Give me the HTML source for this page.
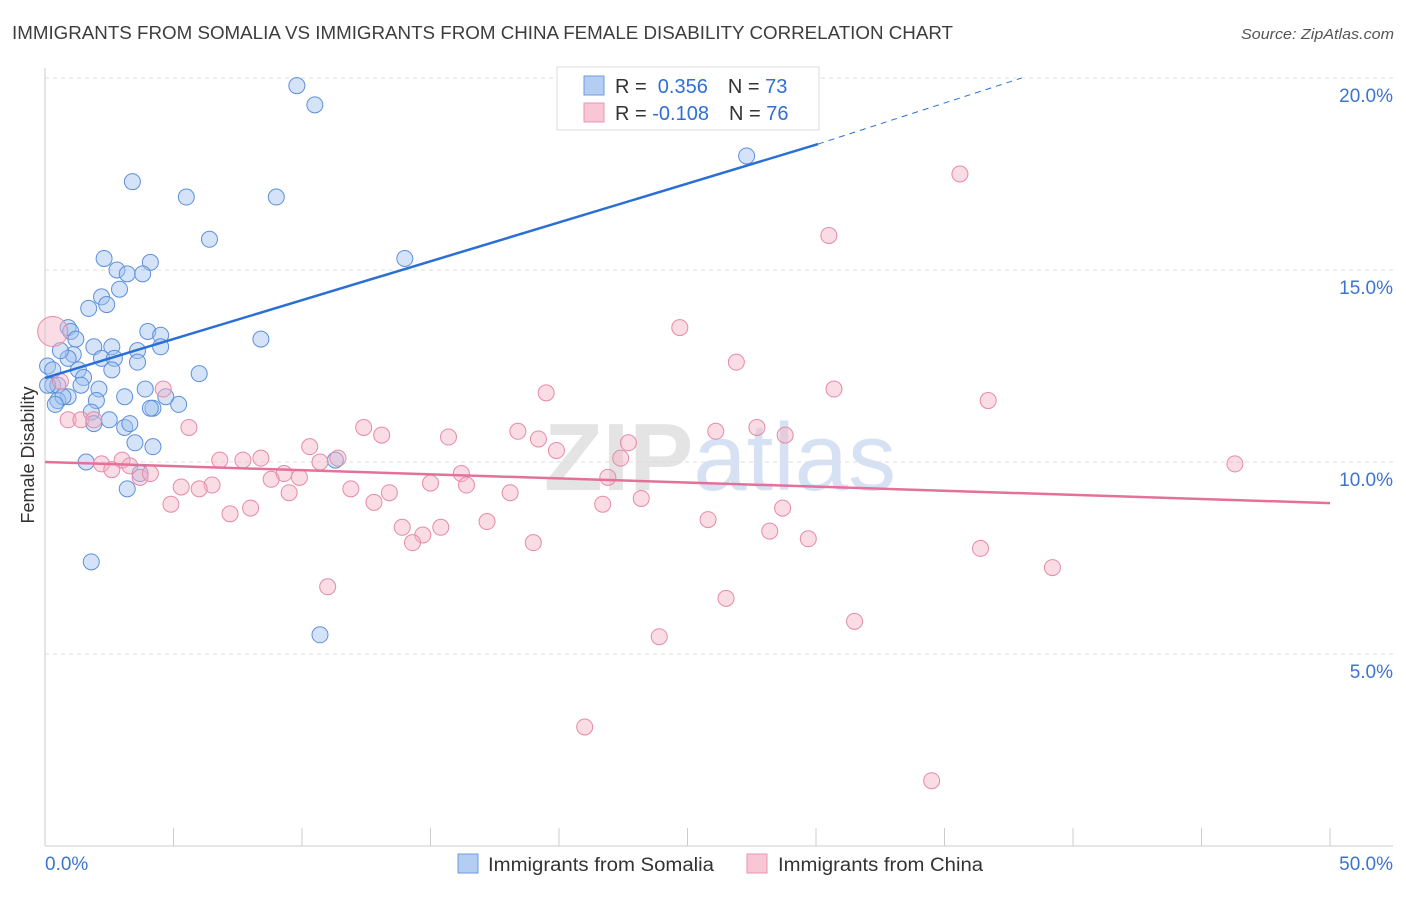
<!DOCTYPE html>
<html><head><meta charset="utf-8"><style>
body{margin:0;background:#fff;font-family:"Liberation Sans",sans-serif;}
svg text{font-family:"Liberation Sans",sans-serif;}
</style></head><body>
<svg id="chart" width="1406" height="892" xmlns="http://www.w3.org/2000/svg">
<text x="12" y="39" font-size="18" fill="#3d3d3d" textLength="941" lengthAdjust="spacingAndGlyphs">IMMIGRANTS FROM SOMALIA VS IMMIGRANTS FROM CHINA FEMALE DISABILITY CORRELATION CHART</text>
<text x="1241" y="39" font-size="15" fill="#555" font-style="italic" textLength="153" lengthAdjust="spacingAndGlyphs">Source: ZipAtlas.com</text>
<text x="720" y="490" font-size="96" text-anchor="middle" fill="#e4e4e4" font-family="Liberation Serif"><tspan font-weight="bold">ZIP</tspan><tspan fill="#d6e2f3" font-family="Liberation Sans">atlas</tspan></text>
<text transform="translate(34,455) rotate(-90)" font-size="18" fill="#333" text-anchor="middle">Female Disability</text>
<g id="grid"></g><g id="ticks"></g><g id="pts"></g><g id="lines"></g>
<g>
<rect x="557" y="67" width="262" height="63" fill="#fff" stroke="#ddd"/>
<rect x="584" y="76" width="20" height="19" fill="#b3cdf3" stroke="#6f9be0"/>
<rect x="584" y="103" width="20" height="19" fill="#f8c6d5" stroke="#e996b1"/>
<text x="615" y="93" font-size="20" fill="#333">R = <tspan fill="#2f6fd6">&#160;0.356</tspan><tspan dx="20">N = </tspan><tspan fill="#2f6fd6">73</tspan></text>
<text x="615" y="120" font-size="20" fill="#333">R = <tspan fill="#2f6fd6">-0.108</tspan><tspan dx="20">N = </tspan><tspan fill="#2f6fd6">76</tspan></text>
</g>
<g>
<rect x="458" y="854" width="20" height="19" fill="#b3cdf3" stroke="#6f9be0"/>
<text x="488" y="871" font-size="19" fill="#333" textLength="226" lengthAdjust="spacingAndGlyphs">Immigrants from Somalia</text>
<rect x="747" y="854" width="20" height="19" fill="#f8c6d5" stroke="#e996b1"/>
<text x="778" y="871" font-size="19" fill="#333" textLength="205" lengthAdjust="spacingAndGlyphs">Immigrants from China</text>
</g>
</svg>
<script>
const yTicks=[5,10,15,20];
const yTickLabels=["5.0%","10.0%","15.0%","20.0%"];
const xTickVals=[0,5,10,15,20,25,30,35,40,45,50];
const xEndLabels=["0.0%","50.0%"];
const somaliaX=[9.8,10.5,27.3,3.4,5.5,9.0,6.4,14.0,2.3,4.1,2.8,3.2,3.8,2.9,2.2,2.4,1.7,0.9,1.0,4.0,4.5,1.2,8.4,1.9,4.5,2.6,3.6,1.1,0.9,2.2,2.7,0.6,0.1,3.6,6.0,1.3,2.6,0.3,1.5,0.3,0.5,1.4,2.1,3.9,0.9,0.5,3.1,5.2,2.0,0.7,4.2,4.1,1.8,2.5,3.1,3.3,1.9,3.5,4.2,1.6,3.7,3.2,1.8,10.7,11.3,4.7,0.1,0.4];
const somaliaY=[19.8,19.3,17.97,17.3,16.9,16.9,15.8,15.3,15.3,15.2,15.0,14.9,14.9,14.5,14.3,14.1,14.0,13.5,13.4,13.4,13.3,13.2,13.2,13.0,13.0,13.0,12.9,12.8,12.7,12.7,12.7,12.9,12.5,12.6,12.3,12.4,12.4,12.4,12.2,12.0,12.0,12.0,11.9,11.9,11.7,11.6,11.7,11.5,11.6,11.7,11.4,11.4,11.3,11.1,10.9,11.0,11.0,10.5,10.4,10.0,9.7,9.3,7.4,5.5,10.05,11.7,12.0,11.5];
const chinaX=[0.3,35.6,30.5,24.7,26.9,30.7,19.5,36.7,4.6,0.6,0.9,1.4,1.9,5.6,12.4,13.1,15.7,18.4,19.2,19.9,22.7,26.1,27.7,28.8,10.3,8.4,6.8,7.7,11.4,10.7,3.0,2.2,3.3,2.6,3.7,4.1,9.3,9.9,8.8,16.2,22.4,21.9,46.3,5.3,6.5,6.0,9.5,11.9,13.4,15.0,16.4,18.1,4.9,7.2,8.0,12.8,13.9,15.4,17.2,21.7,23.2,28.7,25.8,28.2,14.7,14.3,19.0,29.7,36.4,39.2,11.0,26.5,31.5,23.9,21.0,34.5];
const chinaY=[13.4,17.5,15.9,13.5,12.6,11.9,11.8,11.6,11.9,12.1,11.1,11.1,11.1,10.9,10.9,10.7,10.65,10.8,10.6,10.3,10.5,10.8,10.9,10.7,10.4,10.1,10.05,10.05,10.1,10.0,10.05,9.95,9.9,9.8,9.6,9.7,9.7,9.6,9.55,9.7,10.1,9.6,9.95,9.35,9.4,9.3,9.2,9.3,9.2,9.45,9.4,9.2,8.9,8.65,8.8,8.95,8.3,8.3,8.45,8.9,9.05,8.8,8.5,8.2,8.1,7.9,7.9,8.0,7.75,7.25,6.75,6.45,5.85,5.45,3.1,1.7];
const blueTrend=[12.19,18.28,20.0];const blueTrendX=[0,30.08,38.0];
const pinkTrend=[10.0,8.93];const pinkTrendX=[0,50];

const NS="http://www.w3.org/2000/svg";
const sx=v=>45+v*25.7, sy=v=>846-v*38.4;
function mk(tag,attrs,parent){const e=document.createElementNS(NS,tag);for(const k in attrs)e.setAttribute(k,attrs[k]);document.getElementById(parent).appendChild(e);return e;}
yTicks.forEach((t,i)=>{
 const l=mk('line',{x1:45,x2:1393,y1:sy(t),y2:sy(t),stroke:'#ddd','stroke-dasharray':'4,4'},'grid');
 
 
 const tx=mk('text',{x:1393,y:sy(t)+24,'font-size':19,fill:'#3d74cf','text-anchor':'end'},'grid');
 tx.textContent=yTickLabels[i];
 
 
});
const ax=mk('line',{x1:45,x2:45,y1:68,y2:846,stroke:'#ccc'},'ticks');


const bx=mk('line',{x1:45,x2:1393,y1:846,y2:846,stroke:'#ccc'},'ticks');


xTickVals.forEach(v=>{
 const t=mk('line',{x1:sx(v),x2:sx(v),y1:828,y2:846,stroke:'#ccc'},'ticks');
 
 
});
[[0,'start'],[50,'end']].forEach((p,i)=>{
 const t=mk('text',{x:i?1393:45,y:870,'font-size':19,fill:'#3d74cf','text-anchor':p[1]},'ticks');
 t.textContent=xEndLabels[i];
 
 
});
somaliaX.forEach((x,i)=>{
 const c=mk('circle',{cx:sx(x),cy:sy(somaliaY[i]),r:8,fill:'rgba(160,194,240,0.45)',stroke:'#5d90da','stroke-width':1},'pts');
 
 
});
chinaX.forEach((x,i)=>{
 const c=mk('circle',{cx:sx(x),cy:sy(chinaY[i]),r:i==0?15:8,fill:'rgba(245,178,198,0.45)',stroke:'#e68aa8','stroke-width':1},'pts');
 
 
});
const b1=mk('line',{x1:sx(blueTrendX[0]),y1:sy(blueTrend[0]),x2:sx(blueTrendX[1]),y2:sy(blueTrend[1]),stroke:'#2b6fd6','stroke-width':2.5},'lines');


const b2=mk('line',{x1:sx(blueTrendX[1]),y1:sy(blueTrend[1]),x2:sx(blueTrendX[2]),y2:sy(blueTrend[2]),stroke:'#2b6fd6','stroke-width':1,'stroke-dasharray':'6,5'},'lines');


const p1=mk('line',{x1:sx(pinkTrendX[0]),y1:sy(pinkTrend[0]),x2:sx(pinkTrendX[1]),y2:sy(pinkTrend[1]),stroke:'#e4719a','stroke-width':2.5},'lines');


</script>
</body></html>
